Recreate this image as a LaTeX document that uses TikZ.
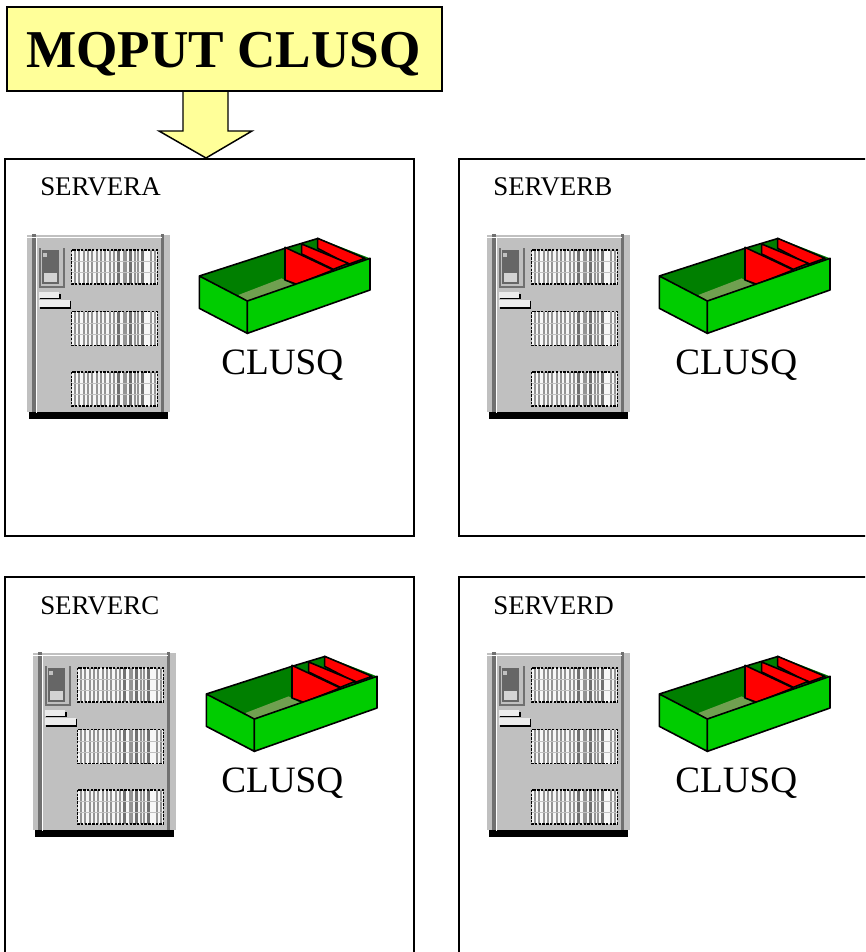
\documentclass[tikz,border=0pt]{standalone}
\usepackage{fontspec}
\setmainfont{Liberation Serif}
\definecolor{noteyellow}{HTML}{FFFF99}
\definecolor{srvgray}{HTML}{C0C0C0}
\definecolor{srvdark}{HTML}{707070}
\definecolor{bingreen}{HTML}{00CC00}
\definecolor{bindark}{HTML}{007F00}
\definecolor{binfloor}{HTML}{70A050}
\definecolor{binred}{HTML}{FF0000}
\tikzset{
  px/.style={x=0.75pt,y=-0.75pt},
  tlabel/.style={anchor=base west,inner sep=0,font=\fontsize{20.2pt}{22pt}\selectfont},
  qlabel/.style={anchor=base west,inner sep=0,font=\fontsize{27.9pt}{30pt}\selectfont},
  binline/.style={draw=black,line width=1.2pt,line join=round},
  pics/rack/.style={code={
    \fill[white!88!srvgray] (155,#1) rectangle (412,#1+102);
    \foreach \k in {165,178,191,204,217,230,243,256,269,282,311,318,346,353,392,405}
      \draw[srvdark!75,line width=1.4pt] (\k,#1) -- (\k,#1+102);
    \foreach \k in {296,332,368}
      \draw[srvdark,line width=2.4pt] (\k,#1) -- (\k,#1+102);
    \draw[srvgray,line width=0.6pt] (155,#1+35) -- (412,#1+35) (155,#1+68) -- (412,#1+68);
    \draw[black,line width=1.2pt,dash pattern=on 1.8pt off 1pt] (155,#1) rectangle (412,#1+102);
  }},
  pics/serverunit/.style={code={
    \begin{scope}[x=0.25pt,y=-0.25pt]
      \fill[srvgray] (20,30) rectangle (450,560);
      \fill[black] (28,560) rectangle (443,583);
      \draw[srvdark,line width=2.6pt] (42,28) -- (42,560);
      \draw[srvdark,line width=2.6pt] (428,28) -- (428,560);
      \draw[white,line width=0.9pt] (50,36) -- (50,565);
      \draw[white,line width=0.9pt] (15,37) -- (425,37);
      \fill[srvdark] (58,68) rectangle (136,190);
      \fill[srvgray] (62,70) rectangle (130,183);
      \fill[black!60] (66,76) rectangle (118,176);
      \fill[srvgray] (70,84) rectangle (82,96);
      \fill[srvgray!70] (72,145) rectangle (112,170);
      \fill[black] (60,206) rectangle (122,222);
      \fill[white!70!srvgray] (57,202) rectangle (118,218);
      \fill[black] (60,228) rectangle (154,251);
      \fill[white!70!srvgray] (57,224) rectangle (149,246);
      \pic {rack=75};
      \pic {rack=260};
      \pic {rack=441};
    \end{scope}
  }},
  pics/traybin/.style={code={
    \begin{scope}[x=0.25pt,y=-0.25pt]
      \fill[bindark] (28,138) -- (385,25) -- (540,85) -- (172,213) -- cycle;
      \fill[binfloor] (145,195) -- (275,145) -- (310,165) -- (172,213) -- cycle;
      \draw[binline] (28,138) -- (285,55);
      \draw[binline] (285,55) -- (385,25);
      \draw[binline,fill=binred] (383,25) -- (525,85) -- (475,103) -- (383,55) -- cycle;
      \draw[binline,fill=binred] (335,42) -- (475,100) -- (430,118) -- (335,72) -- cycle;
      \draw[binline,fill=binred] (285,52) -- (430,120) -- (320,163) -- (285,150) -- cycle;
      \draw[binline,fill=bingreen] (28,138) -- (172,213) -- (172,310) -- (28,235) -- cycle;
      \draw[binline,fill=bingreen] (172,213) -- (540,85) -- (540,180) -- (172,310) -- cycle;
    \end{scope}
  }}
}
\begin{document}
\begin{tikzpicture}[px]
\useasboundingbox (0,0) rectangle (865,952);
\clip (0,0) rectangle (865,952);
\fill[white] (0,0) rectangle (865,952);

% server frames
\draw[black,line width=1.1pt] (5,159) rectangle (414,536);
\draw[black,line width=1.1pt] (459,159) rectangle (875,536);
\draw[black,line width=1.1pt] (5,577) rectangle (414,965);
\draw[black,line width=1.1pt] (459,577) rectangle (875,965);

% block arrow from the note into SERVERA
\draw[black,fill=noteyellow,line width=1.1pt,line join=miter]
  (183,90) -- (228,90) -- (228,131) -- (252,131) -- (206,158) -- (159,131) -- (183,131) -- cycle;

% note
\node[draw=black,fill=noteyellow,line width=1.2pt,anchor=north west,minimum width=326.25pt,minimum height=63pt,inner sep=0] (note) at (6,6) {};
\node[anchor=base west,inner sep=0,font=\fontsize{39.9pt}{42pt}\selectfont\bfseries] (title) at (26,68) {MQPUT CLUSQ};

% labels
\node[tlabel] (la) at (40,196) {SERVERA};
\node[tlabel] (lb) at (493,196) {SERVERB};
\node[tlabel] (lc) at (40,614) {SERVERC};
\node[tlabel] (ld) at (493,614) {SERVERD};
\node[qlabel] (qa) at (221,374) {CLUSQ};
\node[qlabel] (qb) at (675,374) {CLUSQ};
\node[qlabel] (qc) at (221,792) {CLUSQ};
\node[qlabel] (qd) at (675,792) {CLUSQ};

% servers
\pic at (20,225) {serverunit};
\pic at (480,225) {serverunit};
\pic at (26,643) {serverunit};
\pic at (480,643) {serverunit};

% queues
\pic at (190,230) {traybin};
\pic at (650,230) {traybin};
\pic at (197,648) {traybin};
\pic at (650,648) {traybin};
\end{tikzpicture}
\end{document}
